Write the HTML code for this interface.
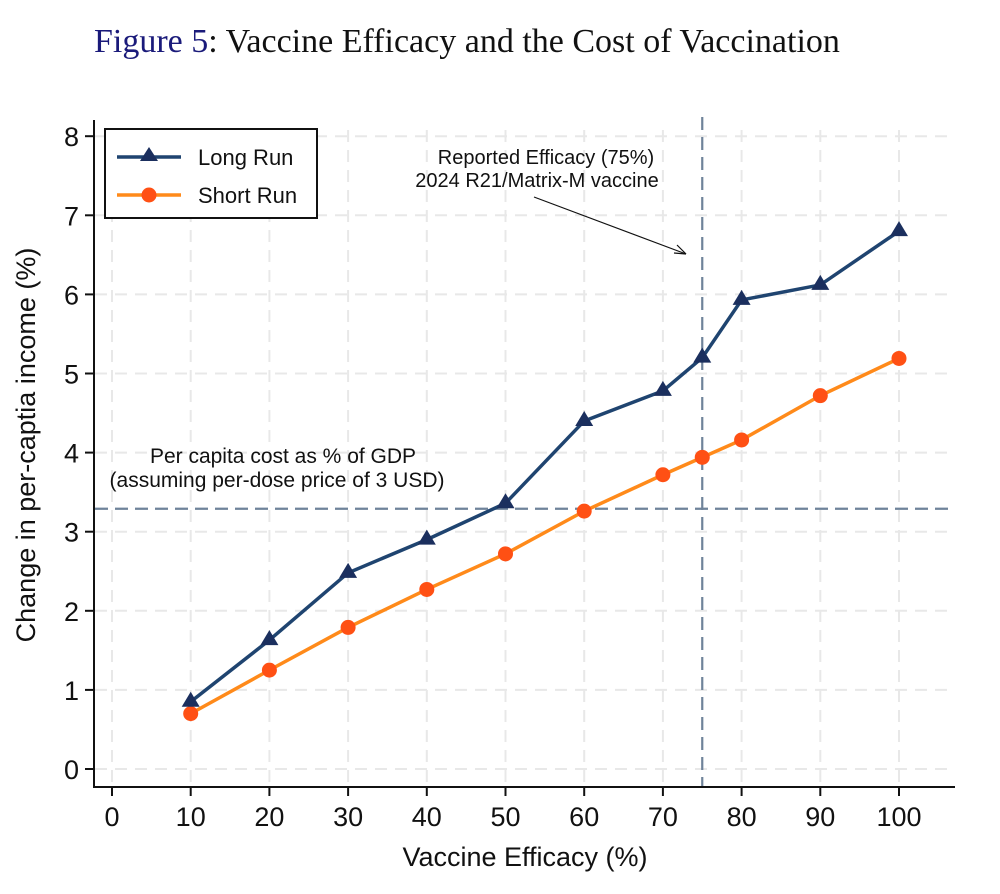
<!DOCTYPE html>
<html><head><meta charset="utf-8"><style>
body{margin:0;background:#fff;}
svg text{font-family:"Liberation Sans",sans-serif;}
</style></head><body>
<svg width="1000" height="889" xmlns="http://www.w3.org/2000/svg">
<text x="94" y="52" font-size="34" style="font-family:'Liberation Serif',serif"><tspan fill="#1a1a7a">Figure 5</tspan><tspan fill="#111">: Vaccine Efficacy and the Cost of Vaccination</tspan></text>
<g id="grid"></g><g id="axes"></g><g id="series"></g>
<text x="35" y="445" font-size="27" transform="rotate(-90 35 445)" text-anchor="middle" fill="#111">Change in per-captia income (%)</text>
<text x="525" y="866" font-size="27" text-anchor="middle" fill="#111">Vaccine Efficacy (%)</text>
<text x="546" y="164" font-size="20" text-anchor="middle" fill="#111">Reported Efficacy (75%)</text>
<text x="537" y="187" font-size="20" text-anchor="middle" fill="#111">2024 R21/Matrix-M vaccine</text>
<line x1="534" y1="197" x2="686" y2="254" stroke="#111" stroke-width="1.2"/>
<path d="M686 254 L674 253 M686 254 L677 245" stroke="#111" stroke-width="1.2" fill="none"/>
<text x="283" y="463" font-size="21" text-anchor="middle" fill="#111">Per capita cost as % of GDP</text>
<text x="277" y="487" font-size="21" text-anchor="middle" fill="#111">(assuming per-dose price of 3 USD)</text>
<g>
<rect x="105" y="129" width="212" height="89" fill="#fff" stroke="#111" stroke-width="2"/>
<line x1="117" y1="157" x2="181" y2="157" stroke="#1f4470" stroke-width="3.5"/>
<path d="M149 147 L158 161 L140 161 Z" fill="#1b2f5e"/>
<text x="198" y="165" font-size="22" fill="#111">Long Run</text>
<line x1="117" y1="195" x2="181" y2="195" stroke="#ff8a1a" stroke-width="3.5"/>
<circle cx="149" cy="195" r="7.5" fill="#ff5014"/>
<text x="198" y="203" font-size="22" fill="#111">Short Run</text>
</g>
</svg>
<script>
const xs=[10,20,30,40,50,60,70,75,80,90,100];
const longRun=[0.85,1.63,2.48,2.9,3.36,4.4,4.78,5.2,5.93,6.12,6.8];
const shortRun=[0.7,1.25,1.79,2.27,2.72,3.26,3.72,3.94,4.16,4.72,5.19];
const xTicks=[0,10,20,30,40,50,60,70,80,90,100];
const yTicks=[0,1,2,3,4,5,6,7,8];
const costLine=3.29, efficacyLine=75;
const X=v=>112+v*7.87, Y=v=>769-v*79.1;
const NS="http://www.w3.org/2000/svg";
function mk(t,a,p){const e=document.createElementNS(NS,t);for(const k in a)e.setAttribute(k,a[k]);p.appendChild(e);return e;}
const g=document.getElementById('grid'),ax=document.getElementById('axes'),s=document.getElementById('series');
xTicks.forEach(t=>{const l=mk('line',{x1:X(t),x2:X(t),y1:130,y2:786,stroke:'#e8e8e8','stroke-width':2,'stroke-dasharray':'12 8'},g);


mk('line',{x1:X(t),x2:X(t),y1:787,y2:796,stroke:'#111','stroke-width':2},ax);
const tx=mk('text',{x:X(t),y:826,'font-size':27,'text-anchor':'middle',fill:'#111'},ax);tx.textContent=t;

});
yTicks.forEach(t=>{const l=mk('line',{x1:95,x2:955,y1:Y(t),y2:Y(t),stroke:'#e8e8e8','stroke-width':2,'stroke-dasharray':'12 8'},g);


mk('line',{x1:85,x2:94,y1:Y(t),y2:Y(t),stroke:'#111','stroke-width':2},ax);
const tx=mk('text',{x:79,y:Y(t)+10,'font-size':27,'text-anchor':'end',fill:'#111'},ax);tx.textContent=t;

});
mk('path',{d:'M94 120 L94 787 L955 787',stroke:'#111','stroke-width':2,fill:'none'},ax);
const hl=mk('line',{x1:95,x2:955,y1:Y(costLine),y2:Y(costLine),stroke:'#6f839a','stroke-width':2.2,'stroke-dasharray':'13 7'},s);


const vl=mk('line',{x1:X(efficacyLine),x2:X(efficacyLine),y1:117,y2:786,stroke:'#6f839a','stroke-width':2.2,'stroke-dasharray':'13 7'},s);


const sl=mk('polyline',{points:xs.map((x,i)=>X(x)+','+Y(shortRun[i])).join(' '),fill:'none',stroke:'#ff8a1a','stroke-width':3.5},s);


const ll=mk('polyline',{points:xs.map((x,i)=>X(x)+','+Y(longRun[i])).join(' '),fill:'none',stroke:'#1f4470','stroke-width':3.5},s);


xs.forEach((x,i)=>{const c=mk('circle',{cx:X(x),cy:Y(shortRun[i]),r:7.5,fill:'#ff5014'},s);


const cx=X(x),cy=Y(longRun[i]);
const p=mk('path',{d:`M${cx} ${cy-10} L${cx+9} ${cy+5} L${cx-9} ${cy+5} Z`,fill:'#1b2f5e'},s);

});
</script>
</body></html>
